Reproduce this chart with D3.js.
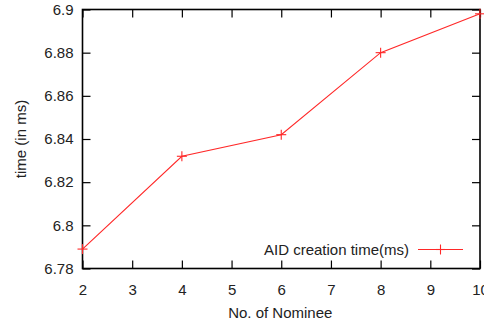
<!DOCTYPE html>
<html><head><meta charset="utf-8">
<script src="https://cdn.jsdelivr.net/npm/d3@7"></script>
<style>body{margin:0;background:#fff}svg{display:block;font-family:"Liberation Sans",Arial,sans-serif}</style>
</head><body><svg id="c" width="484" height="326"></svg>
<script>
const nominees = [2, 4, 6, 8, 10];
const creationTime = [6.789, 6.832, 6.842, 6.880, 6.898];
const xTicks = [2, 3, 4, 5, 6, 7, 8, 9, 10];
const yTicks = [6.78, 6.8, 6.82, 6.84, 6.86, 6.88, 6.9];
const seriesName = "AID creation time(ms)";

const svg = d3.select("#c");
const L = 82.5, R = 480, T = 9.5, B = 268.5;
const x = d3.scaleLinear().domain([2, 10]).range([L, R]);
const y = d3.scaleLinear().domain([6.78, 6.9]).range([B, T]);
const tl = 8;
const FS = 15;

const g = svg.append("g");
const fmt = d => String(+d.toFixed(2));
g.append("g").attr("transform", `translate(0,${B})`)
  .call(d3.axisBottom(x).tickValues(xTicks).tickSize(-tl).tickPadding(tl + 8).tickFormat(fmt))
  .call(a => a.select(".domain").remove());
g.append("g").attr("transform", `translate(0,${T})`)
  .call(d3.axisTop(x).tickValues(xTicks).tickSize(-tl).tickFormat(""))
  .call(a => a.select(".domain").remove());
g.append("g").attr("transform", `translate(${L},0)`)
  .call(d3.axisLeft(y).tickValues(yTicks).tickSize(-tl).tickPadding(9).tickFormat(fmt))
  .call(a => a.select(".domain").remove());
g.append("g").attr("transform", `translate(${R},0)`)
  .call(d3.axisRight(y).tickValues(yTicks).tickSize(-tl).tickFormat(""))
  .call(a => a.select(".domain").remove());
g.selectAll(".tick line").attr("stroke", "#000").attr("stroke-width", 1.2);
g.selectAll(".tick text").attr("font-size", FS).attr("fill", "#222").attr("font-family", "Liberation Sans, Arial, sans-serif");

svg.append("rect").attr("x", L).attr("y", T).attr("width", R - L).attr("height", B - T)
  .attr("fill", "none").attr("stroke", "#000").attr("stroke-width", 1.6);

const data = nominees.map((n, i) => ({x: n, y: creationTime[i]}));
svg.append("path").datum(data)
  .attr("d", d3.line().x(d => x(d.x)).y(d => y(d.y)))
  .attr("fill", "none").attr("stroke", "#ff2828").attr("stroke-width", 1.1);
const ms = 5;
const plus = (sel) => {
  sel.append("line").attr("x1", d => d.px - ms).attr("x2", d => d.px + ms).attr("y1", d => d.py).attr("y2", d => d.py);
  sel.append("line").attr("x1", d => d.px).attr("x2", d => d.px).attr("y1", d => d.py - ms).attr("y2", d => d.py + ms);
};
svg.append("g").attr("stroke", "#ff2828").attr("stroke-width", 1.1)
  .selectAll("g").data(data.map(d => ({px: x(d.x), py: y(d.y)}))).join("g").call(plus);

// legend
const ly = 249.5;
svg.append("text").attr("x", 409).attr("y", ly).attr("dy", "0.35em").attr("text-anchor", "end")
  .attr("font-size", FS).attr("fill", "#222").text(seriesName);
svg.append("line").attr("x1", 418).attr("x2", 463).attr("y1", ly).attr("y2", ly)
  .attr("stroke", "#ff2828").attr("stroke-width", 1.1);
svg.append("g").attr("stroke", "#ff2828").attr("stroke-width", 1.1)
  .selectAll("g").data([{px: 440.5, py: ly}]).join("g").call(plus);

// axis labels
svg.append("text").attr("x", (L + R) / 2 - 1).attr("y", 313).attr("dy", "0.35em").attr("text-anchor", "middle")
  .attr("font-size", FS).attr("fill", "#222").text("No. of Nominee");
svg.append("text").attr("transform", `translate(21,${(T + B) / 2}) rotate(-90)`).attr("dy", "0.35em")
  .attr("text-anchor", "middle").attr("font-size", FS).attr("fill", "#222").text("time (in ms)");
</script></body></html>
